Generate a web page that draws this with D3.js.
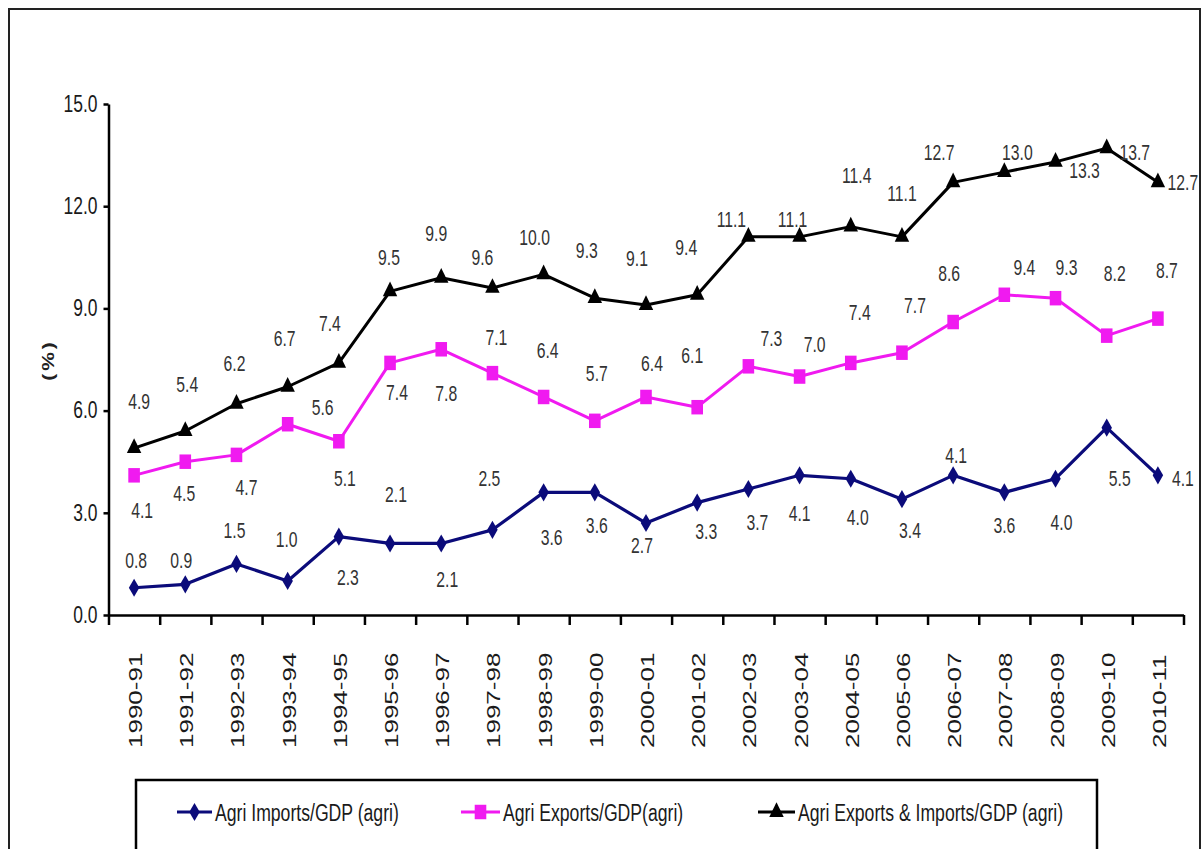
<!DOCTYPE html>
<html><head><meta charset="utf-8">
<script src="https://cdn.jsdelivr.net/npm/d3@7"></script>
<style>
html,body{margin:0;padding:0;background:#fff;}
svg{display:block;font-family:"Liberation Sans",Arial,sans-serif;}
</style>
</head><body>
<svg id="chart" width="1204" height="849"></svg>
<script>
// ---------------- data ----------------
const categories = ["1990-91","1991-92","1992-93","1993-94","1994-95","1995-96","1996-97","1997-98","1998-99","1999-00","2000-01","2001-02","2002-03","2003-04","2004-05","2005-06","2006-07","2007-08","2008-09","2009-10","2010-11"];
const importsGdp = [0.8,0.9,1.5,1.0,2.3,2.1,2.1,2.5,3.6,3.6,2.7,3.3,3.7,4.1,4.0,3.4,4.1,3.6,4.0,5.5,4.1];
const exportsGdp = [4.1,4.5,4.7,5.6,5.1,7.4,7.8,7.1,6.4,5.7,6.4,6.1,7.3,7.0,7.4,7.7,8.6,9.4,9.3,8.2,8.7];
const tradeGdp   = [4.9,5.4,6.2,6.7,7.4,9.5,9.9,9.6,10.0,9.3,9.1,9.4,11.1,11.1,11.4,11.1,12.7,13.0,13.3,13.7,12.7];
const yTicks = [0,3,6,9,12,15];
const seriesNames = ["Agri Imports/GDP (agri)","Agri Exports/GDP(agri)","Agri Exports & Imports/GDP (agri)"];
const yAxisTitle = "(%)";

// ---------------- layout (label placement offsets, px) ----------------
const importsLabelOffset = [[2,-28],[-4,-24],[-2,-34],[-1,-42],[9,40],[6,-49],[6,36],[-3,-52],[8,45],[2,33],[-4,22],[9,29],[9,33],[0,38],[7,38],[8,31],[3,-20],[0,33],[6,43],[13,50],[25,3]];
const exportsLabelOffset = [[8,35],[-1,31],[10,32],[35,-17],[6,37],[7,29],[5,44],[4,-36],[4,-47],[2,-48],[6,-34],[-5,-52],[23,-28],[15,-32],[9,-51],[13,-48],[-4,-49],[20,-28],[11,-31],[8,-63],[9,-49]];
const tradeLabelOffset   = [[5,-47],[2,-47],[-2,-41],[-3,-49],[-9,-40],[-1,-34],[-5,-45],[-10,-31],[-9,-37],[-8,-48],[-9,-47],[-11,-48],[-17,-18],[-7,-18],[6,-52],[0,-44],[-14,-30],[13,-20],[29,8],[28,4],[25,0]];

const plot = {left:108.5, right:1183.5, top:104, bottom:615};
const svg = d3.select("#chart");

// outer frame
svg.append("rect").attr("x",9).attr("y",9).attr("width",1191).attr("height",900)
  .attr("fill","#fff").attr("stroke","#222").attr("stroke-width",2);

const x = d3.scaleBand().domain(categories).range([plot.left, plot.right]);
const xb = d3.scaleLinear().domain([0, categories.length]).range([plot.left, plot.right]);
const y = d3.scaleLinear().domain([0,15]).range([plot.bottom, plot.top]);
const cx = c => x(c) + x.bandwidth()/2;

// y axis
const gy = svg.append("g").attr("transform",`translate(${plot.left},0)`)
  .call(d3.axisLeft(y).tickValues(yTicks).tickFormat(d3.format(".1f")).tickSize(5).tickSizeOuter(0));
gy.selectAll("path,line").attr("stroke","#000").attr("stroke-width",2.5);
gy.selectAll("text").attr("font-size",23).attr("fill","#1a1a1a")
  .attr("font-family",'"Liberation Sans",Arial,sans-serif')
  .attr("x",-11/0.76).attr("transform","scale(0.76,1)");

// x axis (ticks at category boundaries)
const gx = svg.append("g").attr("transform",`translate(0,${plot.bottom})`)
  .call(d3.axisBottom(xb).tickValues(d3.range(categories.length+1)).tickFormat("").tickSize(10).tickSizeOuter(0));
gx.selectAll("path,line").attr("stroke","#000").attr("stroke-width",2.5);

// x category labels
svg.append("g").selectAll("text").data(categories).join("text")
  .attr("transform", c => `translate(${cx(c)+1+7},748) rotate(-90) scale(1,0.74)`)
  .attr("text-anchor","start").attr("font-size",26).attr("fill","#1a1a1a")
  .text(c => c);

// y title
svg.append("text").attr("transform","translate(54,360) rotate(-90) scale(1,0.8)")
  .attr("text-anchor","middle").attr("font-size",21).attr("font-weight","bold")
  .attr("letter-spacing",3).attr("fill","#222").text(yAxisTitle);

const series = [
  {name:seriesNames[0], values:importsGdp, color:"#0b0b7a", sym:d3.symbolDiamond, size:95, sx:1, offs:importsLabelOffset, lw:3.2},
  {name:seriesNames[1], values:exportsGdp, color:"#f01af0", sym:d3.symbolSquare, size:210, sx:0.8, offs:exportsLabelOffset, lw:3},
  {name:seriesNames[2], values:tradeGdp, color:"#000000", sym:d3.symbolTriangle, size:125, sx:0.85, offs:tradeLabelOffset, lw:3}
];

const line = d3.line().x((d,i)=>cx(categories[i])).y(d=>y(d));

series.forEach(s => {
  svg.append("path").datum(s.values).attr("d",line).attr("fill","none")
    .attr("stroke",s.color).attr("stroke-width",s.lw).attr("stroke-linejoin","round");
  svg.append("g").selectAll("path").data(s.values).join("path")
    .attr("d", d3.symbol().type(s.sym).size(s.size))
    .attr("transform",(d,i)=>`translate(${cx(categories[i])},${y(d)}) scale(${s.sx},1)`)
    .attr("fill",s.color);
});

series.forEach(s => {
  svg.append("g").selectAll("text").data(s.values).join("text")
    .attr("transform",(d,i)=>`translate(${cx(categories[i])+s.offs[i][0]},${y(d)+s.offs[i][1]}) scale(0.7,1)`)
    .attr("text-anchor","middle").attr("dy","0.35em")
    .attr("font-size",22.5).attr("fill","#333")
    .text(d => d3.format(".1f")(d));
});

// legend
svg.append("rect").attr("x",136).attr("y",780).attr("width",961).attr("height",100)
  .attr("fill","#fff").attr("stroke","#000").attr("stroke-width",2.5);
const legendPos = [{x0:177,x1:212,tx:215},{x0:461,x1:500,tx:503},{x0:758,x1:795,tx:798}];
series.forEach((s,k) => {
  const p = legendPos[k];
  svg.append("line").attr("x1",p.x0).attr("x2",p.x1).attr("y1",812).attr("y2",812)
    .attr("stroke",s.color).attr("stroke-width",3);
  svg.append("path").attr("d", d3.symbol().type(s.sym).size(s.size))
    .attr("transform",`translate(${(p.x0+p.x1)/2},812) scale(${s.sx},1)`).attr("fill",s.color);
  svg.append("text").attr("transform",`translate(${p.tx},821) scale(0.72,1)`)
    .attr("font-size",24.5).attr("fill","#1a1a1a").text(s.name);
});
</script>
</body></html>
